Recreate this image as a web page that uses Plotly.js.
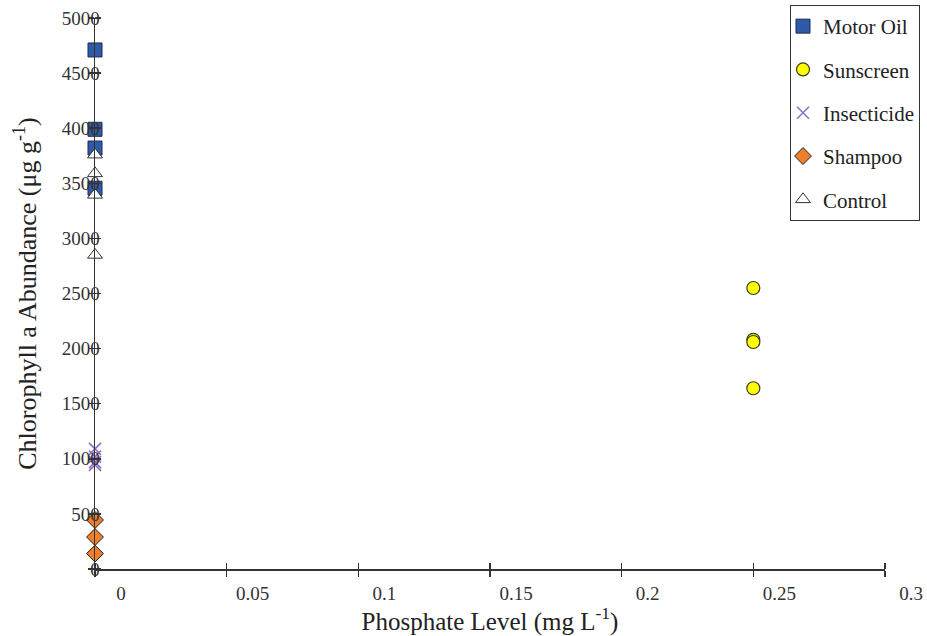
<!DOCTYPE html>
<html>
<head>
<meta charset="utf-8">
<script src="https://cdn.plot.ly/plotly-3.0.1.min.js"></script>
<style>html,body{margin:0;padding:0;background:#fff;}#chart{width:927px;height:636px;}</style>
</head>
<body>
<div id="chart"></div>
<script>
// Data
var seriesNames = ["Motor Oil", "Sunscreen", "Insecticide", "Shampoo", "Control"];
var motorOilX = [0, 0, 0, 0];
var motorOilY = [4710, 3990, 3820, 3455];
var sunscreenX = [0.25, 0.25, 0.25, 0.25];
var sunscreenY = [2550, 2080, 2060, 1640];
var insecticideX = [0, 0, 0, 0];
var insecticideY = [1090, 1020, 970, 945];
var shampooX = [0, 0, 0];
var shampooY = [445, 290, 140];
var controlX = [0, 0, 0, 0];
var controlY = [3760, 3590, 3395, 2850];

var FONT = "Liberation Serif, Times New Roman, serif";

function tr(name, xs, ys, marker) {
  return {type: "scatter", mode: "markers", name: name,
          x: xs, y: ys, marker: marker, cliponaxis: false, legendgroup: name};
}

var data = [
  tr(seriesNames[0], motorOilX, motorOilY, {symbol: "square", size: 14, color: "#2F5AA8", line: {color: "#1B2A4E", width: 1}}),
  tr(seriesNames[1], sunscreenX, sunscreenY, {symbol: "circle", size: 13, color: "#FFFF00", line: {color: "#3A3A20", width: 1.2}}),
  tr(seriesNames[2], insecticideX, insecticideY, {symbol: "x-thin", size: 12, color: "#8E6CC8", line: {color: "#8E6CC8", width: 1.5}}),
  tr(seriesNames[3], shampooX, shampooY, {symbol: "diamond", size: 13, color: "#EE7F2D", line: {color: "#222222", width: 1}}),
  tr(seriesNames[4], controlX, controlY, {symbol: "triangle-up", size: 13, color: "#FFFFFF", line: {color: "#333333", width: 1}})
];

var layout = {
  width: 927, height: 636,
  margin: {l: 95, r: 42, t: 18, b: 67, autoexpand: false},
  paper_bgcolor: "#fff", plot_bgcolor: "#fff",
  font: {family: FONT, size: 19, color: "#222"},
  showlegend: true,
  xaxis: {
    range: [0, 0.3], tick0: 0, dtick: 0.05,
    showgrid: false, zeroline: false,
    showline: true, linecolor: "#333", linewidth: 1.5,
    ticks: "outside", ticklen: 6, tickwidth: 1.5, tickcolor: "#333",
    minor: {ticks: "inside", ticklen: 6, tick0: 0, dtick: 0.05, tickwidth: 1.5, tickcolor: "#333", showgrid: false},
    ticklabelshift: 26, ticklabelstandoff: 1,
    tickfont: {family: FONT, size: 19, color: "#333"},
    title: {text: "Phosphate Level (mg L<sup>-1</sup>)", standoff: 5, font: {family: FONT, size: 25, color: "#222"}}
  },
  yaxis: {
    range: [0, 5000], tick0: 0, dtick: 500,
    showgrid: false, zeroline: false,
    showline: true, linecolor: "#333", linewidth: 1.5,
    ticks: "outside", ticklen: 6, tickwidth: 1.5, tickcolor: "#333",
    minor: {ticks: "inside", ticklen: 6, tick0: 0, dtick: 500, tickwidth: 1.5, tickcolor: "#333", showgrid: false},
    ticklabelstandoff: -16,
    tickfont: {family: FONT, size: 19, color: "#333"},
    title: {text: "Chlorophyll a Abundance (μg g<sup>-1</sup>)", standoff: 17, font: {family: FONT, size: 26, color: "#222"}}
  },
  legend: {
    x: 1.0443, y: 1.0236, xanchor: "right", yanchor: "top",
    bordercolor: "#333", borderwidth: 1, bgcolor: "#fff",
    font: {family: FONT, size: 21, color: "#222"},
    traceorder: "grouped", tracegroupgap: 13, itemwidth: 30, indentation: -8
  }
};

var gd = document.getElementById("chart");
Plotly.newPlot(gd, data, layout, {displayModeBar: false, staticPlot: true}).then(function () {
  var texts = gd.querySelectorAll(".legend text, .legendtext");
  for (var i = 0; i < texts.length; i++) {
    texts[i].style.setProperty("font-family", "'Liberation Serif', 'Times New Roman', serif", "important");
  }
});
</script>
</body>
</html>
